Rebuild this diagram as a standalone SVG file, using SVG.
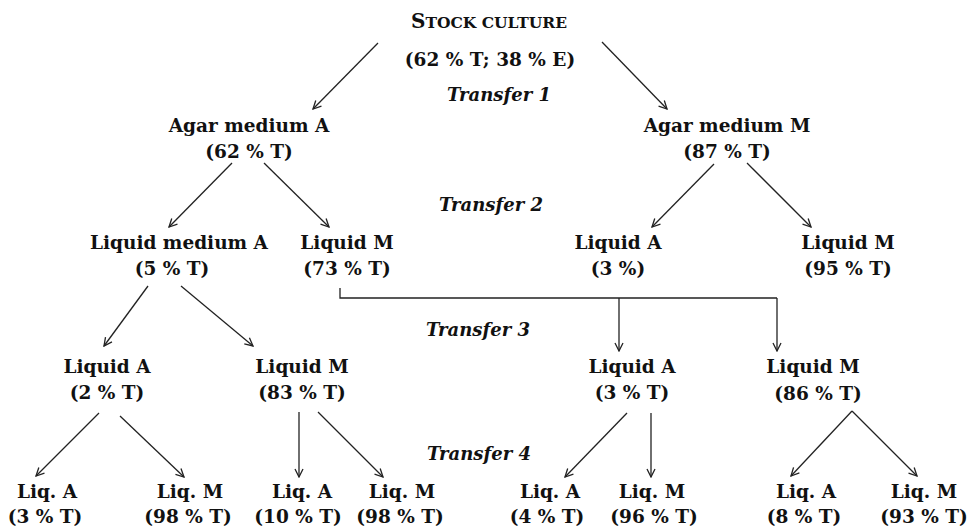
<svg xmlns="http://www.w3.org/2000/svg" width="967" height="528" viewBox="0 0 967 528">
<style>
text{font-family:"DejaVu Serif","Liberation Serif",serif;font-weight:bold;font-size:18.5px;fill:#111;text-anchor:middle}
.it{font-style:italic;font-size:18px}
.sc{font-size:15.5px}
.c line,.c path{stroke:#222;stroke-width:1.3;fill:none}
.a{marker-end:url(#ah)}
</style>
<defs>
<marker id="ah" viewBox="0 0 10 10" refX="9" refY="5" markerWidth="10" markerHeight="10" markerUnits="userSpaceOnUse" orient="auto">
<path d="M1,1 L9,5 L1,9" fill="none" stroke="#222" stroke-width="1.3"/>
</marker>
</defs>
<rect width="967" height="528" fill="#fff"/>
<g id="stock">
<text x="489" y="28"><tspan font-size="20">S</tspan><tspan class="sc">TOCK CULTURE</tspan></text>
<text x="490" y="66">(62 % T; 38 % E)</text>
</g>
<g id="labels">
<text class="it" x="499" y="101">Transfer 1</text>
<text class="it" x="491" y="211">Transfer 2</text>
<text class="it" x="478" y="336">Transfer 3</text>
<text class="it" x="479" y="460">Transfer 4</text>
</g>
<g id="agarA"><text x="249" y="132">Agar medium A</text><text x="249" y="158">(62 % T)</text></g>
<g id="agarM"><text x="727" y="132">Agar medium M</text><text x="727" y="158">(87 % T)</text></g>
<g id="liqMedA"><text x="179" y="249">Liquid medium A</text><text x="172" y="275">(5 % T)</text></g>
<g id="liqM1"><text x="347" y="249">Liquid M</text><text x="347" y="275">(73 % T)</text></g>
<g id="liqA2"><text x="618" y="249">Liquid A</text><text x="618" y="275">(3 %)</text></g>
<g id="liqM2"><text x="848" y="249">Liquid M</text><text x="848" y="275">(95 % T)</text></g>
<g id="liqA3"><text x="107" y="373">Liquid A</text><text x="107" y="399">(2 % T)</text></g>
<g id="liqM3"><text x="302" y="373">Liquid M</text><text x="302" y="399">(83 % T)</text></g>
<g id="liqA4"><text x="632" y="373">Liquid A</text><text x="632" y="399">(3 % T)</text></g>
<g id="liqM4"><text x="813" y="373">Liquid M</text><text x="818" y="400">(86 % T)</text></g>
<g id="b1"><text x="47" y="498">Liq. A</text><text x="45" y="523">(3 % T)</text></g>
<g id="b2"><text x="190" y="498">Liq. M</text><text x="188" y="523">(98 % T)</text></g>
<g id="b3"><text x="302" y="498">Liq. A</text><text x="298" y="523">(10 % T)</text></g>
<g id="b4"><text x="402" y="498">Liq. M</text><text x="400" y="523">(98 % T)</text></g>
<g id="b5"><text x="550" y="498">Liq. A</text><text x="547" y="523">(4 % T)</text></g>
<g id="b6"><text x="652" y="498">Liq. M</text><text x="654" y="523">(96 % T)</text></g>
<g id="b7"><text x="806" y="498">Liq. A</text><text x="804" y="523">(8 % T)</text></g>
<g id="b8"><text x="924" y="498">Liq. M</text><text x="924" y="523">(93 % T)</text></g>
<g id="connectors" class="c">
<line class="a" x1="378" y1="43" x2="313" y2="109"/>
<line class="a" x1="602" y1="42" x2="667" y2="109"/>
<line class="a" x1="232" y1="163" x2="169" y2="227"/>
<line class="a" x1="264" y1="163" x2="329" y2="227"/>
<line class="a" x1="714" y1="164" x2="652" y2="227"/>
<line class="a" x1="747" y1="163" x2="811" y2="227"/>
<line class="a" x1="148" y1="286" x2="104" y2="346"/>
<line class="a" x1="181" y1="286" x2="253" y2="346"/>
<path d="M340,288 V298 H777"/>
<line class="a" x1="619" y1="298" x2="619" y2="351"/>
<line class="a" x1="777" y1="298" x2="777" y2="351"/>
<line class="a" x1="99" y1="413" x2="36" y2="476"/>
<line class="a" x1="120" y1="416" x2="184" y2="477"/>
<line class="a" x1="299" y1="412" x2="299" y2="477"/>
<line class="a" x1="318" y1="412" x2="383" y2="477"/>
<line class="a" x1="627" y1="413" x2="565" y2="477"/>
<line class="a" x1="651" y1="413" x2="651" y2="477"/>
<line class="a" x1="852" y1="411" x2="791" y2="476"/>
<line class="a" x1="852" y1="411" x2="917" y2="476"/>
</g>
</svg>
